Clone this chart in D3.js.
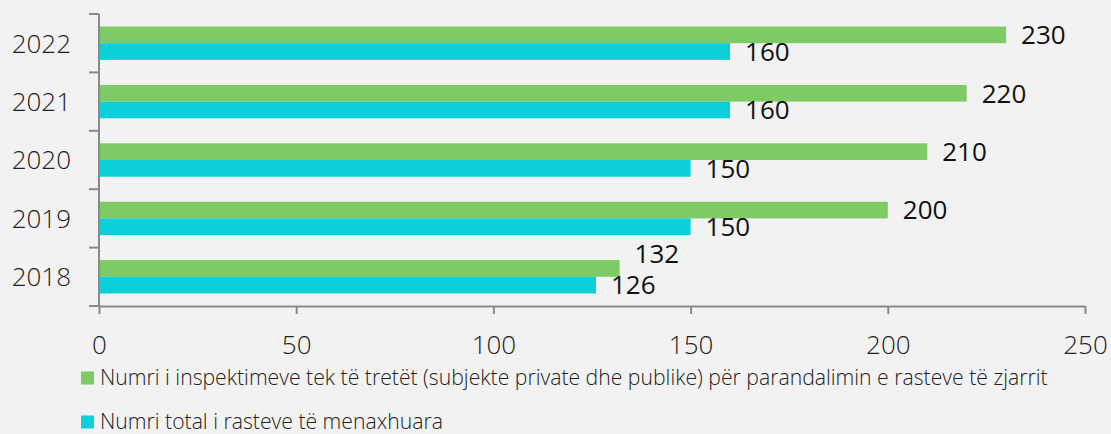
<!DOCTYPE html>
<html>
<head>
<meta charset="utf-8">
<script src="https://cdn.jsdelivr.net/npm/d3@7"></script>
<style>
  body { margin: 0; background: #f2f2f2; }
  svg { display: block; font-family: "Open Sans", sans-serif; }
</style>
</head>
<body>
<svg id="chart" width="1111" height="434"></svg>
<script>
'use strict';
// Data
var years = ['2022', '2021', '2020', '2019', '2018'];
var inspections = [230, 220, 210, 200, 132];
var casesManaged = [160, 160, 150, 150, 126];
var seriesNames = [
    'Numri i inspektimeve tek të tretët (subjekte private dhe publike) për parandalimin e rasteve të zjarrit',
    'Numri total i rasteve të menaxhuara'
];
var seriesColors = ['#7ecb65', '#0ccfd9'];
var xTicks = [0, 50, 100, 150, 200, 250];

var margin = { top: 14, right: 26, bottom: 128, left: 99 };
var svg = d3.select('#chart');
var W = +svg.attr('width'), H = +svg.attr('height');
var plotW = W - margin.left - margin.right;
var plotH = H - margin.top - margin.bottom;
var axisColor = '#898989';

var g = svg.append('g').attr('transform', 'translate(' + margin.left + ',' + margin.top + ')');

var x = d3.scaleLinear().domain([0, 250]).range([0, plotW]);
var y = d3.scaleBand().domain(years).range([0, plotH]).padding(0);
// sub-band for the two series inside each year
var sub = d3.scaleBand().domain([0, 1]).range([0, y.bandwidth()]).paddingInner(0).paddingOuter(0.75);

var rows = years.map(function(yr, i) {
    return { year: yr, values: [inspections[i], casesManaged[i]] };
});

// bars
var rowG = g.selectAll('g.row').data(rows).enter().append('g')
    .attr('class', 'row')
    .attr('transform', function(d) { return 'translate(0,' + y(d.year) + ')'; });

rowG.selectAll('rect').data(function(d) { return d.values; }).enter().append('rect')
    .attr('x', 0)
    .attr('y', function(d, i) { return sub(i); })
    .attr('width', function(d) { return x(d); })
    .attr('height', sub.bandwidth())
    .attr('fill', function(d, i) { return seriesColors[i]; });

// value labels; when the two bars end close together the upper label is pushed up
rowG.each(function(row) {
    var crowded = x(row.values[0]) - x(row.values[1]) < 50;
    d3.select(this).selectAll('text.val').data(row.values).enter().append('text')
        .attr('class', 'val')
        .attr('x', function(d) { return x(d) + 15; })
        .attr('y', function(d, i) {
            return sub(i) + sub.bandwidth() / 2 - (i === 0 && crowded ? 15 : 0);
        })
        .attr('dy', '0.36em')
        .attr('font-size', 26)
        .attr('fill', '#111')
        .text(function(d) { return d; });
});

// y axis: line plus ticks at category boundaries
g.append('line')
    .attr('x1', 0).attr('x2', 0).attr('y1', 0).attr('y2', plotH)
    .attr('stroke', axisColor).attr('stroke-width', 2);
var bounds = years.map(function(yr) { return y(yr); }).concat([plotH]);
g.selectAll('line.ytick').data(bounds).enter().append('line')
    .attr('class', 'ytick')
    .attr('x1', -10).attr('x2', 0)
    .attr('y1', function(d) { return d; }).attr('y2', function(d) { return d; })
    .attr('stroke', axisColor).attr('stroke-width', 2);
g.selectAll('text.ylab').data(years).enter().append('text')
    .attr('class', 'ylab')
    .attr('x', -28)
    .attr('y', function(d) { return y(d) + y.bandwidth() / 2; })
    .attr('dy', '0.36em')
    .attr('text-anchor', 'end')
    .attr('font-size', 26)
    .attr('font-weight', 300)
    .attr('fill', '#222')
    .text(function(d) { return d; });

// x axis
var xAxis = g.append('g')
    .attr('transform', 'translate(0,' + plotH + ')')
    .call(d3.axisBottom(x).tickValues(xTicks).tickSize(8).tickSizeOuter(0).tickPadding(22));
xAxis.select('.domain').attr('stroke', axisColor).attr('stroke-width', 2);
xAxis.selectAll('.tick line').attr('stroke', axisColor).attr('stroke-width', 2);
xAxis.selectAll('.tick text')
    .attr('font-family', '"Open Sans", sans-serif')
    .attr('font-size', 26)
    .attr('font-weight', 300)
    .attr('fill', '#222');

// legend
var legend = svg.selectAll('g.legend').data(seriesNames).enter().append('g')
    .attr('class', 'legend')
    .attr('transform', function(d, i) { return 'translate(81,' + (378 + i * 44) + ')'; });
legend.append('rect')
    .attr('x', 0).attr('y', -6.5).attr('width', 13).attr('height', 13)
    .attr('fill', function(d, i) { return seriesColors[i]; });
legend.append('text')
    .attr('x', 19).attr('dy', '0.34em')
    .attr('font-size', 21.2)
    .attr('font-weight', 300)
    .attr('fill', '#222')
    .text(function(d) { return d; });
</script>
</body>
</html>
